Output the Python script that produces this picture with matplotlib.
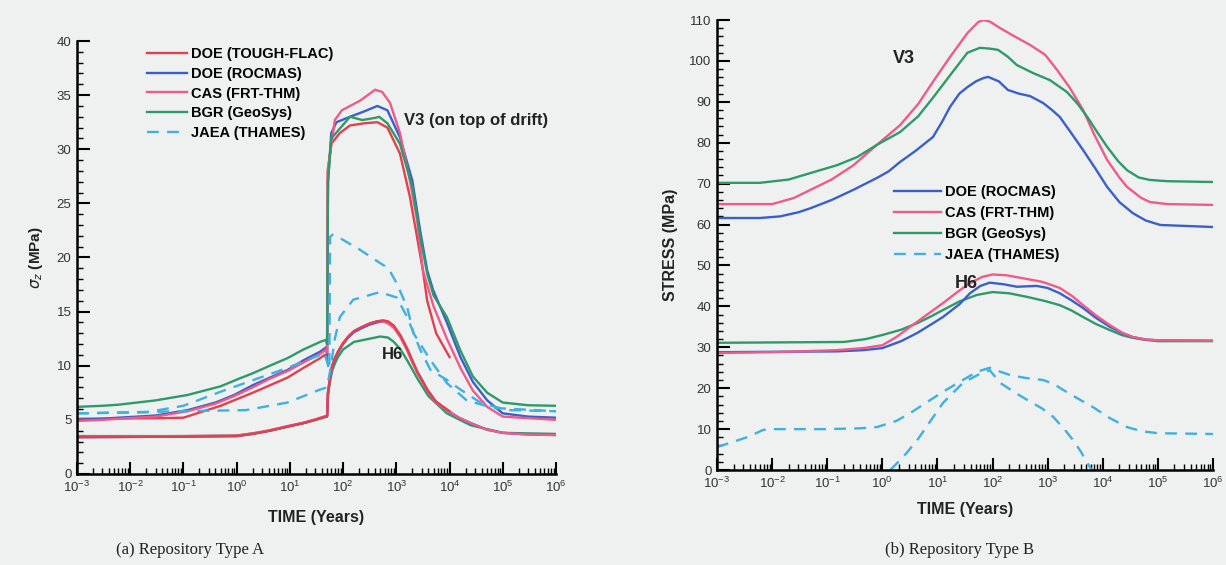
import matplotlib
matplotlib.use("Agg")
import matplotlib.pyplot as plt
from matplotlib.ticker import LogLocator, MultipleLocator, NullFormatter

# ---------------- (a) Repository Type A : sigma_z ----------------
# V3 (on top of drift)
a_v3_flac_t = [1e-3, 0.03, 0.1, 0.5, 2, 9, 18, 37, 45, 50, 52, 60, 87, 135, 250, 440, 680, 1170, 1800, 2450, 3160, 3800, 5600, 1e4]
a_v3_flac_y = [5.1, 5.15, 5.2, 6.3, 7.5, 8.9, 9.8, 10.7, 11.0, 10.5, 28.0, 30.5, 31.5, 32.2, 32.4, 32.5, 32.0, 29.6, 25.6, 21.9, 18.8, 16.0, 13.0, 10.8]

a_v3_rocmas_t = [1e-3, 3e-3, 6e-3, 0.03, 0.12, 0.4, 0.9, 2, 4.2, 9, 18, 37, 48, 50, 52, 60, 75, 135, 250, 440, 680, 1170, 2000, 2800, 3800, 4900, 8900, 1.6e4, 2.75e4, 5.1e4, 1e5, 3e5, 1e6]
a_v3_rocmas_y = [5.0, 5.1, 5.2, 5.4, 5.9, 6.6, 7.3, 8.2, 8.9, 9.6, 10.5, 11.3, 11.7, 11.0, 27.0, 31.5, 32.5, 33.0, 33.5, 34.0, 33.6, 31.1, 27.1, 22.5, 18.8, 17.0, 14.0, 10.8, 8.5, 6.8, 5.6, 5.3, 5.2]

a_v3_cas_t = [1e-3, 3e-3, 6e-3, 0.03, 0.12, 0.4, 0.9, 2, 4.2, 9, 18, 37, 48, 50, 51, 70, 95, 210, 400, 540, 760, 1170, 1800, 2450, 3160, 5000, 8900, 1.6e4, 2.75e4, 5.1e4, 1e5, 1e6]
a_v3_cas_y = [4.9, 5.0, 5.1, 5.3, 5.8, 6.5, 7.2, 8.0, 8.8, 9.5, 10.3, 11.1, 11.5, 11.2, 28.0, 32.7, 33.6, 34.5, 35.5, 35.3, 34.3, 31.5, 27.1, 23.5, 18.8, 15.5, 12.5, 9.8, 7.7, 6.2, 5.3, 5.0]

a_v3_bgr_t = [1e-3, 3e-3, 6e-3, 0.03, 0.12, 0.5, 1.1, 2, 4.2, 9, 18, 37, 48, 50, 52, 60, 135, 230, 400, 475, 680, 1170, 2000, 2800, 3800, 5000, 8900, 1.6e4, 2.75e4, 5.1e4, 1e5, 3e5, 1e6]
a_v3_bgr_y = [6.2, 6.3, 6.4, 6.8, 7.3, 8.1, 8.8, 9.3, 10.0, 10.7, 11.5, 12.2, 12.4, 12.0, 27.0, 31.0, 33.0, 32.7, 32.9, 33.0, 32.4, 30.5, 26.5, 22.0, 18.5, 16.5, 14.5, 11.4, 9.0, 7.5, 6.6, 6.35, 6.3]

a_v3_jaea_t = [1e-3, 0.02, 0.1, 0.5, 2.75, 9, 18, 37, 45, 55, 57, 63, 80, 210, 490, 710, 1020, 1600, 2100, 4400, 8900, 2.1e4, 6.6e4, 1e6]
a_v3_jaea_y = [5.6, 5.7, 6.3, 7.6, 8.9, 9.8, 10.4, 11.0, 11.2, 9.6, 21.9, 22.1, 21.9, 20.7, 19.5, 19.0, 17.6, 15.4, 13.0, 10.5, 8.4, 6.8, 6.1, 5.8]

# H6
a_h6_flac_t = [1e-3, 0.1, 1, 2, 4.2, 8.5, 18, 30, 50, 52, 57, 62, 70, 80, 100, 125, 160, 230, 316, 430, 560, 700, 900, 1200, 1600, 2000, 2500, 3100, 3800, 5500, 1e4]
a_h6_flac_y = [3.4, 3.45, 3.5, 3.7, 4.0, 4.35, 4.7, 5.0, 5.35, 7.5, 8.9, 9.9, 10.7, 11.3, 12.1, 12.7, 13.2, 13.6, 13.9, 14.1, 14.2, 14.1, 13.7, 12.8, 11.6, 10.5, 9.4, 8.6, 7.8, 6.7, 5.8]

a_h6_rocmas_t = [1e-3, 0.1, 1, 2, 4.2, 8.5, 18, 30, 50, 52, 57, 62, 70, 80, 100, 125, 160, 230, 316, 430, 560, 700, 900, 1200, 1600, 2000, 2500, 3100, 3800, 5500, 8900, 1.5e4, 2.5e4, 5e4, 1e5, 3e5, 1e6]
a_h6_rocmas_y = [3.4, 3.45, 3.5, 3.7, 4.0, 4.35, 4.7, 5.0, 5.35, 7.5, 8.9, 9.9, 10.6, 11.2, 12.0, 12.6, 13.1, 13.5, 13.8, 14.0, 14.1, 14.0, 13.6, 12.7, 11.5, 10.4, 9.4, 8.6, 7.8, 6.7, 5.9, 5.2, 4.7, 4.1, 3.8, 3.65, 3.6]

a_h6_cas_t = [1e-3, 0.1, 1, 2, 4.2, 8.5, 18, 30, 50, 52, 57, 62, 70, 80, 100, 125, 160, 230, 316, 430, 560, 700, 900, 1200, 1600, 2000, 2500, 3100, 3800, 5500, 8900, 1.5e4, 2.5e4, 5e4, 1e5, 3e5, 1e6]
a_h6_cas_y = [3.45, 3.5, 3.55, 3.75, 4.05, 4.4, 4.75, 5.05, 5.4, 7.6, 9.0, 10.0, 10.7, 11.3, 12.1, 12.7, 13.2, 13.6, 13.9, 14.1, 14.1, 13.9, 13.5, 12.6, 11.4, 10.3, 9.3, 8.5, 7.7, 6.6, 5.9, 5.2, 4.7, 4.1, 3.8, 3.65, 3.6]

a_h6_bgr_t = [1e-3, 0.1, 1, 2, 4.2, 8.5, 18, 30, 50, 52, 57, 62, 70, 80, 100, 160, 316, 500, 700, 900, 1200, 1600, 2500, 4000, 8900, 2.5e4, 1e5, 1e6]
a_h6_bgr_y = [3.5, 3.5, 3.55, 3.75, 4.0, 4.35, 4.7, 5.0, 5.3, 7.3, 8.6, 9.5, 10.2, 10.8, 11.5, 12.2, 12.5, 12.7, 12.6, 12.2, 11.5, 10.5, 8.8, 7.2, 5.6, 4.5, 3.8, 3.7]

a_h6_jaea_t = [1e-3, 0.1, 1.5, 9, 37, 50, 57, 70, 87, 155, 490, 1020, 1600, 2800, 4400, 8900, 1.6e4, 3.8e4, 1.2e5, 1e6]
a_h6_jaea_y = [5.6, 5.8, 5.9, 6.6, 7.8, 8.0, 9.5, 12.5, 14.5, 16.1, 16.8, 16.3, 14.5, 11.5, 9.6, 8.7, 7.8, 6.6, 5.9, 5.8]

# ---------------- (b) Repository Type B : stress ----------------
b_v3_rocmas_t = [1e-3, 6e-3, 0.014, 0.03, 0.05, 0.12, 0.3, 0.8, 1.3, 2.1, 4, 8.3, 12, 17, 25, 35, 50, 68, 83, 130, 190, 300, 480, 830, 1200, 1660, 2800, 4400, 7500, 1.2e4, 2e4, 3.5e4, 6e4, 1.1e5, 1e6]
b_v3_rocmas_y = [61.6, 61.6, 62.0, 63.0, 64.0, 66.0, 68.5, 71.4, 73.0, 75.3, 78.0, 81.4, 85.0, 88.8, 92.0, 93.6, 95.0, 95.8, 96.1, 95.0, 92.9, 92.0, 91.4, 89.7, 88.0, 86.3, 82.0, 78.2, 73.5, 69.2, 65.5, 62.8, 61.0, 59.9, 59.4]

b_v3_cas_t = [1e-3, 0.01, 0.025, 0.05, 0.12, 0.3, 0.8, 2.1, 4.5, 8.3, 17, 35, 55, 68, 90, 138, 250, 480, 900, 1480, 2500, 4400, 7000, 1.2e4, 2e4, 2.75e4, 5e4, 7.2e4, 1.5e5, 1e6]
b_v3_cas_y = [65.0, 65.0, 66.5, 68.5, 71.0, 74.5, 79.5, 84.3, 89.5, 94.9, 101.0, 106.8, 109.5, 110.0, 109.6, 108.0, 106.0, 103.9, 101.5, 97.8, 93.5, 88.0, 82.0, 75.8, 71.5, 69.2, 66.5, 65.5, 65.0, 64.8]

b_v3_bgr_t = [1e-3, 6e-3, 0.02, 0.05, 0.15, 0.35, 0.8, 2.1, 4.5, 8.3, 17, 35, 59, 90, 126, 190, 275, 550, 1100, 2240, 3500, 5250, 8000, 1.2e4, 1.9e4, 2.75e4, 4.5e4, 7.2e4, 1.5e5, 1e6]
b_v3_bgr_y = [70.2, 70.2, 71.0, 72.6, 74.5, 76.5, 79.5, 82.6, 86.5, 91.0, 96.5, 102.0, 103.2, 103.0, 102.7, 101.0, 99.0, 97.0, 95.3, 92.4, 89.5, 86.3, 82.5, 79.0, 75.5, 73.3, 71.5, 70.9, 70.6, 70.4]

b_v3_jaea_t = [1e-3, 3.5e-3, 6.9e-3, 0.01, 0.1, 0.4, 0.8, 1.8, 3.2, 6.3, 12.6, 25, 52, 89, 140, 210, 400, 830, 1300, 1900, 3500, 6600, 1.3e4, 2.75e4, 5e4, 1e5, 1e6]
b_v3_jaea_y = [5.6, 8.0, 9.8, 10.0, 10.0, 10.2, 10.5, 12.0, 13.9, 16.5, 19.1, 21.5, 24.0, 25.0, 24.0, 23.2, 22.5, 22.0, 21.0, 19.6, 17.5, 15.4, 12.8, 10.5, 9.5, 9.0, 8.8]

b_h6_rocmas_t = [1e-3, 0.01, 0.15, 0.45, 1, 2.2, 4.3, 7.5, 12.6, 25, 39, 60, 89, 160, 275, 630, 1000, 1660, 2700, 4400, 7500, 1.35e4, 2.3e4, 3.5e4, 6e4, 1e5, 1e6]
b_h6_rocmas_y = [28.8, 28.9, 29.0, 29.3, 29.8, 31.5, 33.5, 35.5, 37.4, 40.5, 43.2, 45.0, 45.8, 45.4, 44.8, 45.0, 44.5, 43.2, 41.5, 39.6, 37.2, 35.0, 33.4, 32.5, 31.9, 31.7, 31.6]

b_h6_cas_t = [1e-3, 0.01, 0.15, 0.45, 1, 1.8, 3.2, 6.5, 12.6, 23, 39, 65, 100, 180, 316, 800, 1660, 2800, 4400, 7500, 1.35e4, 2.3e4, 3.5e4, 6e4, 1e5, 1e6]
b_h6_cas_y = [28.6, 28.8, 29.3, 29.8, 30.5, 32.5, 35.0, 38.0, 40.8, 43.5, 45.7, 47.2, 47.8, 47.6, 47.0, 46.0, 44.5, 42.5, 40.3, 37.8, 35.4, 33.5, 32.5, 31.9, 31.7, 31.6]

b_h6_bgr_t = [1e-3, 0.2, 0.5, 1, 2.2, 4.3, 7.5, 12.6, 25, 52, 100, 200, 430, 900, 1660, 2700, 4400, 7500, 1.35e4, 2.2e4, 3.5e4, 6e4, 1e5, 1e6]
b_h6_bgr_y = [31.1, 31.3, 32.0, 33.0, 34.3, 35.9, 37.5, 39.1, 41.2, 42.8, 43.5, 43.2, 42.3, 41.3, 40.3, 39.0, 37.4, 35.7, 34.2, 33.0, 32.3, 31.8, 31.5, 31.5]

b_h6_jaea_t = [1.4, 2.5, 4.3, 7.5, 12.6, 29, 55, 89, 138, 250, 430, 800, 1260, 2000, 2900, 4000, 5100, 6300]
b_h6_jaea_y = [0.0, 3.5, 7.3, 12.0, 16.4, 21.3, 23.3, 24.4, 21.3, 19.0, 17.1, 15.0, 13.0, 10.0, 7.3, 4.5, 2.0, 0.0]

RED = "#e0404f"
BLUE = "#3a5fc8"
PINK = "#ee5a8a"
GREEN = "#2e9a6a"
CYAN = "#3fb0e0"
BG = "#eef1f0"


def style_axis(ax, ymax, ymajor, yminor):
    ax.set_xscale("log")
    ax.set_xlim(1e-3, 1e6)
    ax.set_ylim(0, ymax)
    ax.xaxis.set_major_locator(LogLocator(base=10, numticks=20))
    ax.xaxis.set_minor_locator(LogLocator(base=10, subs=range(2, 10), numticks=100))
    ax.xaxis.set_minor_formatter(NullFormatter())
    ax.yaxis.set_major_locator(MultipleLocator(ymajor))
    ax.yaxis.set_minor_locator(MultipleLocator(yminor))
    ax.tick_params(which="major", direction="in", length=9, width=1.5, labelsize=9.5,
                   labelcolor="#333333", pad=4)
    ax.tick_params(which="minor", direction="in", length=4, width=1.0)
    ax.spines["top"].set_visible(False)
    ax.spines["right"].set_visible(False)
    ax.spines["left"].set_linewidth(1.8)
    ax.spines["bottom"].set_linewidth(1.8)
    ax.set_facecolor(BG)
    ax.set_xlabel("TIME (Years)", fontsize=11.5, fontweight="bold", color="#222222")


def main():
    plt.rcParams["font.family"] = ["Liberation Sans", "DejaVu Sans"]
    fig = plt.figure(figsize=(12.26, 5.65), dpi=100, facecolor=BG)

    lw = 1.7
    dash = (5, 3.5)

    # (a)
    ax = fig.add_axes([0.0628, 0.1611, 0.3907, 0.7663])
    ax.plot(a_v3_flac_t, a_v3_flac_y, color=RED, lw=lw, label="DOE (TOUGH-FLAC)")
    ax.plot(a_v3_rocmas_t, a_v3_rocmas_y, color=BLUE, lw=lw, label="DOE (ROCMAS)")
    ax.plot(a_v3_cas_t, a_v3_cas_y, color=PINK, lw=lw, label="CAS (FRT-THM)")
    ax.plot(a_v3_bgr_t, a_v3_bgr_y, color=GREEN, lw=lw, label="BGR (GeoSys)")
    ax.plot(a_v3_jaea_t, a_v3_jaea_y, color=CYAN, lw=lw, dashes=dash, label="JAEA (THAMES)")
    ax.plot(a_h6_bgr_t, a_h6_bgr_y, color=GREEN, lw=lw)
    ax.plot(a_h6_rocmas_t, a_h6_rocmas_y, color=BLUE, lw=lw)
    ax.plot(a_h6_cas_t, a_h6_cas_y, color=PINK, lw=lw)
    ax.plot(a_h6_flac_t, a_h6_flac_y, color=RED, lw=lw)
    ax.plot(a_h6_jaea_t, a_h6_jaea_y, color=CYAN, lw=lw, dashes=dash)
    style_axis(ax, 40, 5, 1)
    ax.xaxis.labelpad = 11
    ax.set_ylabel(r"$\sigma_z$ (MPa)", fontsize=11, fontweight="bold", color="#222222", labelpad=8)
    ax.text(1400, 32.7, "V3 (on top of drift)", fontsize=12, fontweight="bold", va="center", color="#222222")
    ax.text(540, 11.0, "H6", fontsize=12, fontweight="bold", va="center", color="#222222")
    ax.legend(loc="upper left", bbox_to_anchor=(0.135, 1.0), borderaxespad=0, frameon=False,
              handlelength=2.7, handletextpad=0.3, labelspacing=0.4,
              prop={"size": 10.5, "weight": "bold"})

    # (b)
    ax = fig.add_axes([0.5848, 0.1681, 0.4046, 0.7965])
    ax.plot(b_v3_rocmas_t, b_v3_rocmas_y, color=BLUE, lw=lw, label="DOE (ROCMAS)")
    ax.plot(b_v3_cas_t, b_v3_cas_y, color=PINK, lw=lw, label="CAS (FRT-THM)")
    ax.plot(b_v3_bgr_t, b_v3_bgr_y, color=GREEN, lw=lw, label="BGR (GeoSys)")
    ax.plot(b_v3_jaea_t, b_v3_jaea_y, color=CYAN, lw=lw, dashes=dash, label="JAEA (THAMES)")
    ax.plot(b_h6_bgr_t, b_h6_bgr_y, color=GREEN, lw=lw)
    ax.plot(b_h6_rocmas_t, b_h6_rocmas_y, color=BLUE, lw=lw)
    ax.plot(b_h6_cas_t, b_h6_cas_y, color=PINK, lw=lw)
    ax.plot(b_h6_jaea_t, b_h6_jaea_y, color=CYAN, lw=lw, dashes=dash)
    style_axis(ax, 110, 10, 2)
    ax.xaxis.labelpad = 8
    ax.set_ylabel("STRESS (MPa)", fontsize=11.5, fontweight="bold", color="#222222", labelpad=8)
    ax.text(1.55, 100.7, "V3", fontsize=13, fontweight="bold", va="center", color="#222222")
    ax.text(21, 45.7, "H6", fontsize=13, fontweight="bold", va="center", color="#222222")
    ax.legend(loc="upper left", bbox_to_anchor=(0.345, 0.646), borderaxespad=0, frameon=False,
              handlelength=3.2, handletextpad=0.3, labelspacing=0.48,
              prop={"size": 10.5, "weight": "bold"})

    fig.text(0.155, 0.027, "(a) Repository Type A", family="Liberation Serif", fontsize=12,
             ha="center", va="center", color="#222222")
    fig.text(0.783, 0.027, "(b) Repository Type B", family="Liberation Serif", fontsize=12,
             ha="center", va="center", color="#222222")

    fig.savefig("out.png", dpi=100, facecolor=BG)


if __name__ == "__main__":
    main()
